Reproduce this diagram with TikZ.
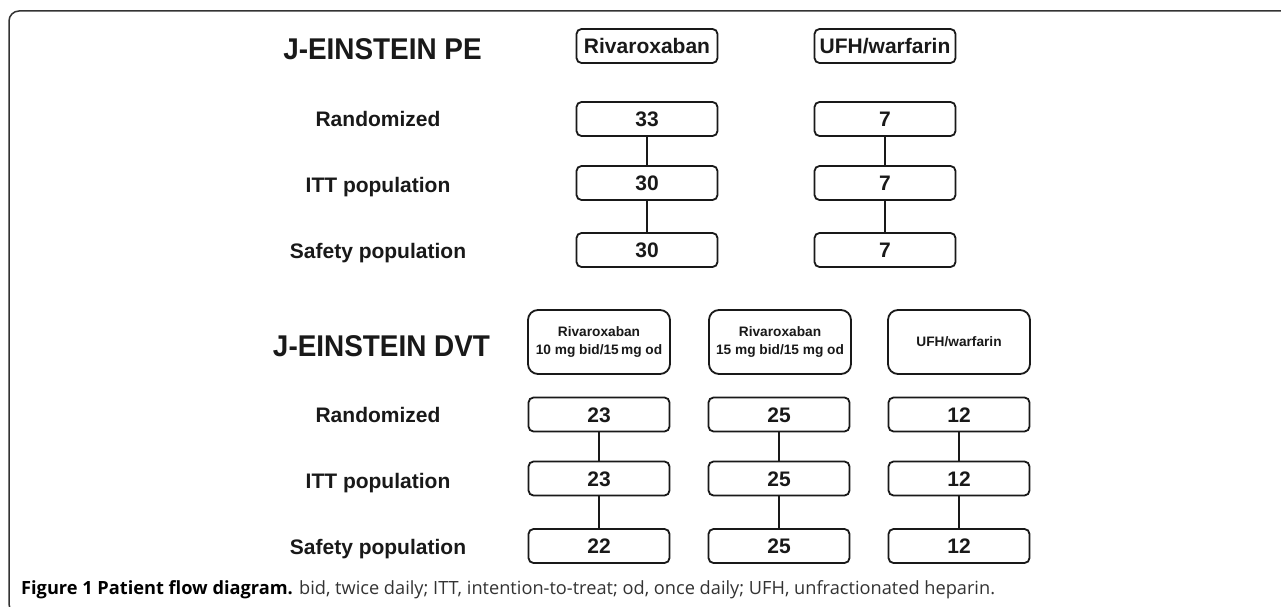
\documentclass[tikz,border=0pt]{standalone}
\usepackage{fontspec}
\setmainfont{Liberation Sans}
\newfontfamily\titlefont[FakeStretch=0.93]{Liberation Sans}
\newfontfamily\capfont{Open Sans}
\begin{document}
\begin{tikzpicture}[x=1pt,y=-1pt]
\tikzset{
 frame/.style={line width=1.5pt, draw=black!80},
 lbl/.style={font=\bfseries\fontsize{21}{25}\selectfont, text height=15pt, text depth=0pt, inner sep=0pt, text=black!90},
 ttl/.style={font=\titlefont\bfseries\fontsize{30}{34}\selectfont, text height=21.5pt, text depth=0pt, inner sep=0pt, text=black!90},
 nbox/.style={draw=black!90, line width=1.8pt, rounded corners=5pt, minimum width=141pt, minimum height=34pt, inner sep=0pt, font=\bfseries\fontsize{21}{25}\selectfont, text height=15pt, text depth=0pt, text=black!90},
 hbox/.style={draw=black!90, line width=1.8pt, rounded corners=10pt, minimum width=142pt, minimum height=64pt, inner sep=0pt, align=center, font=\bfseries\fontsize{13.7}{18}\selectfont, text=black!90},
 link/.style={line width=2pt, draw=black!90}
}
\useasboundingbox (0,0) rectangle (1281,607);
\clip (0,0) rectangle (1281,607);
\fill[white] (0,0) rectangle (1281,607);
% frame
\draw[frame, rounded corners=10pt] (1300,11) -- (9,11) -- (9,614) -- (1300,614);

% J-EINSTEIN PE
\node[ttl] (tpe) at (382.5,49) {J-EINSTEIN PE};
\node[nbox] (hr) at (647,46) {Rivaroxaban};
\node[nbox] (hu) at (885,46) {UFH/warfarin};

\node[lbl] (lr1) at (378,119) {Randomized};
\node[lbl] (li1) at (378,185) {ITT population};
\node[lbl] (ls1) at (378,251) {Safety population};

\node[nbox] (a1) at (647,119) {33};
\node[nbox] (a2) at (647,183) {30};
\node[nbox] (a3) at (647,250) {30};
\node[nbox] (b1) at (885,119) {7};
\node[nbox] (b2) at (885,183) {7};
\node[nbox] (b3) at (885,250) {7};
\draw[link] (a1) -- (a2);
\draw[link] (a2) -- (a3);
\draw[link] (b1) -- (b2);
\draw[link] (b2) -- (b3);

% J-EINSTEIN DVT
\node[ttl] (tdvt) at (381.5,346) {J-EINSTEIN DVT};
\node[hbox] (h1) at (599,342) {Rivaroxaban\\10 mg bid/15\,mg od};
\node[hbox] (h2) at (780,342) {Rivaroxaban\\15 mg bid/15 mg od};
\node[hbox] (h3) at (959,342) {UFH/warfarin};

\node[lbl] (lr2) at (378,415) {Randomized};
\node[lbl] (li2) at (378,481) {ITT population};
\node[lbl] (ls2) at (378,547) {Safety population};

\node[nbox] (c1) at (599,414.5) {23};
\node[nbox] (c2) at (599,478.5) {23};
\node[nbox] (c3) at (599,546) {22};
\node[nbox] (d1) at (779,414.5) {25};
\node[nbox] (d2) at (779,478.5) {25};
\node[nbox] (d3) at (779,546) {25};
\node[nbox] (e1) at (959,414.5) {12};
\node[nbox] (e2) at (959,478.5) {12};
\node[nbox] (e3) at (959,546) {12};
\draw[link] (c1) -- (c2);
\draw[link] (c2) -- (c3);
\draw[link] (d1) -- (d2);
\draw[link] (d2) -- (d3);
\draw[link] (e1) -- (e2);
\draw[link] (e2) -- (e3);

% caption
\node[anchor=base west, inner sep=0pt, font=\capfont\fontsize{18.2}{21}\selectfont, text=black!80] (cap) at (21,594) {\textbf{\color{black}Figure 1 Patient flow diagram.} bid, twice daily; ITT, intention-to-treat; od, once daily; UFH, unfractionated heparin.};
\end{tikzpicture}
\end{document}
